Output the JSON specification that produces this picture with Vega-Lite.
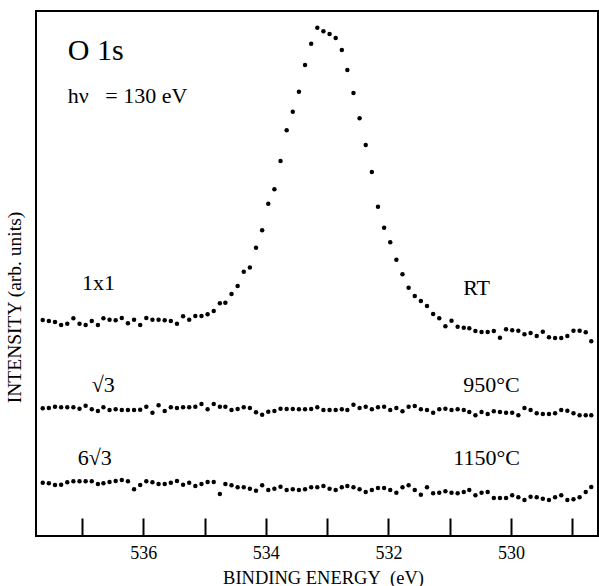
{
"$schema": "https://vega.github.io/schema/vega-lite/v6.json",
"width": 562, "height": 525,
"autosize": {"type": "none"},
"padding": {"left": 36, "top": 11, "right": 1, "bottom": 50},
"background": "white",
"config": {"view": {"stroke": "black", "strokeWidth": 2}, "font": "Liberation Serif"},
"datasets": {
"rt": [
{"E":537.64,"I":216},{"E":537.54,"I":215},{"E":537.44,"I":214},{"E":537.34,"I":211},{"E":537.24,"I":212.3},{"E":537.14,"I":217.7},{"E":537.04,"I":212.3},{"E":536.94,"I":211},{"E":536.84,"I":215},{"E":536.74,"I":211},
{"E":536.65,"I":217.7},{"E":536.55,"I":216.3},{"E":536.45,"I":215.7},{"E":536.35,"I":218},{"E":536.25,"I":212.7},{"E":536.15,"I":216.3},{"E":536.05,"I":211},{"E":535.95,"I":218},{"E":535.85,"I":216.3},{"E":535.75,"I":216.3},
{"E":535.65,"I":215.7},{"E":535.55,"I":215},{"E":535.45,"I":212.3},{"E":535.35,"I":219.7},{"E":535.25,"I":216.3},{"E":535.15,"I":220},{"E":535.05,"I":220},{"E":534.95,"I":221.7},{"E":534.85,"I":225},{"E":534.75,"I":232.7},
{"E":534.66,"I":233.3},{"E":534.56,"I":242},{"E":534.46,"I":250},{"E":534.36,"I":264.3},{"E":534.26,"I":268.5},{"E":534.16,"I":288.3},{"E":534.06,"I":305.7},{"E":533.96,"I":332.3},{"E":533.86,"I":346.7},{"E":533.76,"I":375},
{"E":533.66,"I":405.7},{"E":533.56,"I":424.3},{"E":533.46,"I":444.3},{"E":533.36,"I":471},{"E":533.26,"I":492.3},{"E":533.16,"I":508.3},{"E":533.06,"I":504.7},{"E":532.96,"I":502},{"E":532.86,"I":498},{"E":532.76,"I":486},
{"E":532.67,"I":466},{"E":532.57,"I":443},{"E":532.47,"I":417.7},{"E":532.37,"I":391},{"E":532.27,"I":364},{"E":532.17,"I":329.3},{"E":532.07,"I":308.3},{"E":531.97,"I":293.7},{"E":531.87,"I":276.3},{"E":531.77,"I":261.7},
{"E":531.67,"I":248.3},{"E":531.57,"I":240},{"E":531.47,"I":235},{"E":531.37,"I":230},{"E":531.27,"I":222},{"E":531.17,"I":217.7},{"E":531.07,"I":209.7},{"E":530.97,"I":215.3},{"E":530.87,"I":209.3},{"E":530.77,"I":208.3},
{"E":530.68,"I":207.7},{"E":530.58,"I":205},{"E":530.48,"I":204},{"E":530.38,"I":204},{"E":530.28,"I":205},{"E":530.18,"I":198.3},{"E":530.08,"I":206.7},{"E":529.98,"I":205.7},{"E":529.88,"I":205.3},{"E":529.78,"I":201.7},
{"E":529.68,"I":203},{"E":529.58,"I":200},{"E":529.48,"I":204.3},{"E":529.38,"I":198.7},{"E":529.28,"I":198},{"E":529.18,"I":198},{"E":529.08,"I":200},{"E":528.98,"I":205.3},{"E":528.88,"I":205.3},{"E":528.78,"I":203.7},
{"E":528.69,"I":194.7}
],
"t950": [
{"E":537.64,"I":127.7},{"E":537.54,"I":128},{"E":537.44,"I":129.3},{"E":537.34,"I":128.7},{"E":537.24,"I":128.7},{"E":537.14,"I":128.7},{"E":537.04,"I":127.3},{"E":536.94,"I":130.3},{"E":536.84,"I":126.7},{"E":536.74,"I":125},
{"E":536.65,"I":128.7},{"E":536.55,"I":126},{"E":536.45,"I":126.7},{"E":536.35,"I":126},{"E":536.25,"I":126},{"E":536.15,"I":126},{"E":536.05,"I":126.3},{"E":535.95,"I":129.3},{"E":535.85,"I":123.3},{"E":535.75,"I":130.7},
{"E":535.65,"I":125},{"E":535.55,"I":128.7},{"E":535.45,"I":128},{"E":535.35,"I":128.7},{"E":535.25,"I":128.7},{"E":535.15,"I":129.3},{"E":535.05,"I":132},{"E":534.95,"I":126.7},{"E":534.85,"I":132},{"E":534.75,"I":129.3},
{"E":534.66,"I":129.3},{"E":534.56,"I":126},{"E":534.46,"I":127},{"E":534.36,"I":128.7},{"E":534.26,"I":128},{"E":534.16,"I":123.7},{"E":534.06,"I":121.3},{"E":533.96,"I":124.3},{"E":533.86,"I":125},{"E":533.76,"I":127.3},
{"E":533.66,"I":127},{"E":533.56,"I":127},{"E":533.46,"I":126.7},{"E":533.36,"I":126.7},{"E":533.26,"I":127},{"E":533.16,"I":128.7},{"E":533.06,"I":126},{"E":532.96,"I":126},{"E":532.86,"I":126},{"E":532.76,"I":126.7},
{"E":532.67,"I":126},{"E":532.57,"I":131.3},{"E":532.47,"I":128},{"E":532.37,"I":129.3},{"E":532.27,"I":126.7},{"E":532.17,"I":128.7},{"E":532.07,"I":129.3},{"E":531.97,"I":126},{"E":531.87,"I":128},{"E":531.77,"I":124.7},
{"E":531.67,"I":129.3},{"E":531.57,"I":130},{"E":531.47,"I":126.7},{"E":531.37,"I":126},{"E":531.27,"I":123.3},{"E":531.17,"I":126.7},{"E":531.07,"I":127.3},{"E":530.97,"I":126},{"E":530.87,"I":126.7},{"E":530.77,"I":126},
{"E":530.68,"I":124},{"E":530.58,"I":120.7},{"E":530.48,"I":124},{"E":530.38,"I":122},{"E":530.28,"I":124.7},{"E":530.18,"I":124},{"E":530.08,"I":123.3},{"E":529.98,"I":123.3},{"E":529.88,"I":120.7},{"E":529.78,"I":128},
{"E":529.68,"I":126},{"E":529.58,"I":122.7},{"E":529.48,"I":122},{"E":529.38,"I":122},{"E":529.28,"I":122.7},{"E":529.18,"I":126},{"E":529.08,"I":125.3},{"E":528.98,"I":122.7},{"E":528.88,"I":120.7},{"E":528.78,"I":120.7},
{"E":528.69,"I":120.7}
],
"t1150": [
{"E":537.64,"I":53.3},{"E":537.54,"I":52.7},{"E":537.44,"I":51},{"E":537.34,"I":51.3},{"E":537.24,"I":53.7},{"E":537.14,"I":54.7},{"E":537.04,"I":54.7},{"E":536.94,"I":54.7},{"E":536.84,"I":54.7},{"E":536.74,"I":52},
{"E":536.65,"I":52.7},{"E":536.55,"I":54},{"E":536.45,"I":55},{"E":536.35,"I":56},{"E":536.25,"I":54.7},{"E":536.15,"I":46.7},{"E":536.05,"I":51},{"E":535.95,"I":54.7},{"E":535.85,"I":53.7},{"E":535.75,"I":52},
{"E":535.65,"I":52},{"E":535.55,"I":53.3},{"E":535.45,"I":55},{"E":535.35,"I":51.3},{"E":535.25,"I":53.3},{"E":535.15,"I":50},{"E":535.05,"I":52},{"E":534.95,"I":54},{"E":534.85,"I":54},{"E":534.75,"I":42},
{"E":534.66,"I":52},{"E":534.56,"I":50.7},{"E":534.46,"I":48.7},{"E":534.36,"I":48.7},{"E":534.26,"I":47.3},{"E":534.16,"I":45.3},{"E":534.06,"I":50.7},{"E":533.96,"I":46},{"E":533.86,"I":47.3},{"E":533.76,"I":49.3},
{"E":533.66,"I":46},{"E":533.56,"I":46.7},{"E":533.46,"I":46},{"E":533.36,"I":46.7},{"E":533.26,"I":48.7},{"E":533.16,"I":48.7},{"E":533.06,"I":50},{"E":532.96,"I":47.3},{"E":532.86,"I":46},{"E":532.76,"I":48.7},
{"E":532.67,"I":50},{"E":532.57,"I":48.7},{"E":532.47,"I":46.7},{"E":532.37,"I":44},{"E":532.27,"I":46},{"E":532.17,"I":48},{"E":532.07,"I":48},{"E":531.97,"I":46},{"E":531.87,"I":43.3},{"E":531.77,"I":48.7},
{"E":531.67,"I":50.7},{"E":531.57,"I":46},{"E":531.47,"I":41.3},{"E":531.37,"I":48.7},{"E":531.27,"I":42.7},{"E":531.17,"I":43.3},{"E":531.07,"I":44.7},{"E":530.97,"I":43.3},{"E":530.87,"I":42.7},{"E":530.77,"I":44},
{"E":530.68,"I":46},{"E":530.58,"I":40.7},{"E":530.48,"I":43.3},{"E":530.38,"I":44},{"E":530.28,"I":38},{"E":530.18,"I":38},{"E":530.08,"I":38},{"E":529.98,"I":40.7},{"E":529.88,"I":38.7},{"E":529.78,"I":36},
{"E":529.68,"I":39.3},{"E":529.58,"I":38.7},{"E":529.48,"I":37.3},{"E":529.38,"I":36},{"E":529.28,"I":38.7},{"E":529.18,"I":40.7},{"E":529.08,"I":36},{"E":528.98,"I":36.7},{"E":528.88,"I":38.7},{"E":528.78,"I":44},
{"E":528.69,"I":49}
],
"big": [{"E":537.23,"I":476,"t":"O 1s"}],
"small": [
{"E":537.23,"I":433,"t":"hν\u00a0\u00a0 = 130 eV"},
{"E":537.0,"I":246,"t":"1x1"},
{"E":530.78,"I":241,"t":"RT"},
{"E":536.84,"I":144,"t":"√3"},
{"E":530.78,"I":144,"t":"950°C"},
{"E":537.07,"I":71,"t":"6√3"},
{"E":530.94,"I":71,"t":"1150°C"}
]
},
"encoding": {
"x": {"field": "E", "type": "quantitative",
 "scale": {"domain": [528.58, 537.75], "reverse": true, "nice": false, "zero": false},
 "axis": {"title": "BINDING ENERGY\u00a0 (eV)", "values": [529,530,531,532,533,534,535,536,537],
  "labelExpr": "datum.value % 2 == 0 ? datum.label : ''",
  "tickSize": -18, "tickWidth": 2, "tickColor": "black", "domain": false, "grid": false,
  "labelFontSize": 18, "labelFont": "Liberation Serif", "labelColor": "black", "labelPadding": 26,
  "titleFontSize": 18.5, "titleFontWeight": "normal", "titleFont": "Liberation Serif", "titleColor": "black",
  "titleX": 287, "titleY": 47, "titleBaseline": "alphabetic", "titleAnchor": null}},
"y": {"field": "I", "type": "quantitative",
 "scale": {"domain": [0, 525], "nice": false, "zero": false},
 "axis": {"title": "INTENSITY (arb. units)", "labels": false, "ticks": false, "domain": false, "grid": false,
  "titleFontSize": 19.5, "titleFontWeight": "normal", "titleFont": "Liberation Serif", "titleColor": "black",
  "titleX": -22, "titleY": 296, "titleAlign": "center", "titleBaseline": "middle", "titleAngle": -90}}
},
"layer": [
{"data": {"name": "rt"}, "mark": {"type": "point", "filled": true, "size": 20, "color": "black", "opacity": 1}},
{"data": {"name": "t950"}, "mark": {"type": "point", "filled": true, "size": 20, "color": "black", "opacity": 1}},
{"data": {"name": "t1150"}, "mark": {"type": "point", "filled": true, "size": 20, "color": "black", "opacity": 1}},
{"data": {"name": "big"}, "mark": {"type": "text", "align": "left", "baseline": "alphabetic", "font": "Liberation Serif", "fontSize": 30, "color": "black"},
 "encoding": {"text": {"field": "t"}}},
{"data": {"name": "small"}, "mark": {"type": "text", "align": "left", "baseline": "alphabetic", "font": "Liberation Serif", "fontSize": 22, "color": "black"},
 "encoding": {"text": {"field": "t"}}}
]
}
